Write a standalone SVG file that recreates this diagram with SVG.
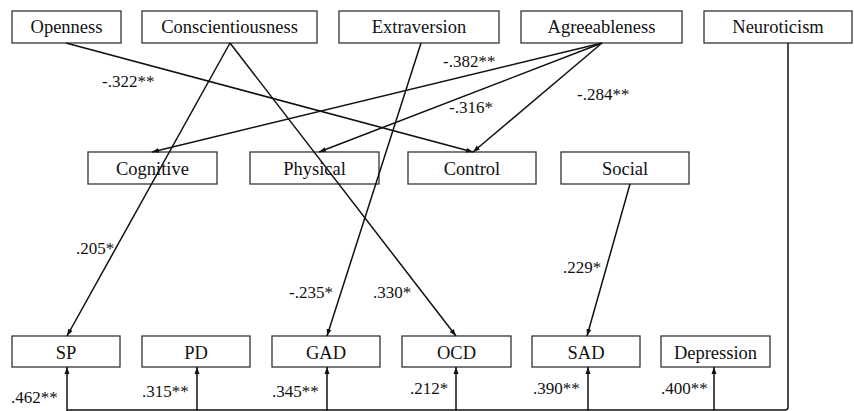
<svg xmlns="http://www.w3.org/2000/svg" width="854" height="411" viewBox="0 0 854 411">
<style>
.box{fill:#fff;stroke:#333;stroke-width:1.3}
.t{font-family:"Liberation Serif","Times New Roman",serif;font-size:18.5px;fill:#111;text-anchor:middle}
.l{font-family:"Liberation Serif","Times New Roman",serif;font-size:17px;fill:#111}
.c{fill:none;stroke:#111;stroke-width:1.5}
</style>
<defs>
<marker id="ah" markerUnits="userSpaceOnUse" markerWidth="8" markerHeight="6" refX="7" refY="3" orient="auto">
<path d="M0,0.5 L7,3 L0,5.5 z" fill="#111"/>
</marker>
</defs>
<rect width="854" height="411" fill="#fff"/>
<g id="openness"><rect class="box" x="12" y="11" width="109" height="32"/><text class="t" x="66.5" y="33">Openness</text></g>
<g id="conscientiousness"><rect class="box" x="142" y="11" width="175" height="32"/><text class="t" x="229.5" y="33">Conscientiousness</text></g>
<g id="extraversion"><rect class="box" x="339" y="11" width="160" height="32"/><text class="t" x="419" y="33">Extraversion</text></g>
<g id="agreeableness"><rect class="box" x="521" y="11" width="161" height="32"/><text class="t" x="601.5" y="33">Agreeableness</text></g>
<g id="neuroticism"><rect class="box" x="704" y="11" width="148" height="32"/><text class="t" x="778" y="33">Neuroticism</text></g>
<g id="cognitive"><rect class="box" x="88" y="152" width="129" height="32"/><text class="t" x="152.5" y="175">Cognitive</text></g>
<g id="physical"><rect class="box" x="250" y="152" width="129" height="32"/><text class="t" x="314.5" y="175">Physical</text></g>
<g id="control"><rect class="box" x="408" y="152" width="128" height="32"/><text class="t" x="472" y="175">Control</text></g>
<g id="social"><rect class="box" x="561" y="152" width="128" height="32"/><text class="t" x="625" y="175">Social</text></g>
<g id="sp"><rect class="box" x="12" y="336" width="108" height="31"/><text class="t" x="66" y="359">SP</text></g>
<g id="pd"><rect class="box" x="142" y="336" width="108" height="31"/><text class="t" x="196" y="359">PD</text></g>
<g id="gad"><rect class="box" x="272" y="336" width="108" height="31"/><text class="t" x="326" y="359">GAD</text></g>
<g id="ocd"><rect class="box" x="402" y="336" width="109" height="31"/><text class="t" x="456.5" y="359">OCD</text></g>
<g id="sad"><rect class="box" x="532" y="336" width="108" height="31"/><text class="t" x="586" y="359">SAD</text></g>
<g id="depression"><rect class="box" x="661" y="336" width="109" height="31"/><text class="t" x="715.5" y="359">Depression</text></g>
<g id="connectors">
<line class="c" x1="66" y1="43" x2="473" y2="152" marker-end="url(#ah)"/>
<line class="c" x1="230" y1="43" x2="67" y2="336" marker-end="url(#ah)"/>
<line class="c" x1="230" y1="43" x2="456" y2="336" marker-end="url(#ah)"/>
<line class="c" x1="421" y1="43" x2="327" y2="336" marker-end="url(#ah)"/>
<line class="c" x1="602" y1="43" x2="152" y2="152" marker-end="url(#ah)"/>
<line class="c" x1="602" y1="43" x2="319" y2="152" marker-end="url(#ah)"/>
<line class="c" x1="602" y1="43" x2="473" y2="152" marker-end="url(#ah)"/>
<line class="c" x1="630" y1="184" x2="587" y2="336" marker-end="url(#ah)"/>
<path class="c" d="M788,43 L788,407 Q788,410 785,410 L67,410" stroke-width="1.2"/>
<line class="c" x1="67" y1="411" x2="67" y2="367" marker-end="url(#ah)"/>
<line class="c" x1="197" y1="411" x2="197" y2="367" marker-end="url(#ah)"/>
<line class="c" x1="327" y1="411" x2="327" y2="367" marker-end="url(#ah)"/>
<line class="c" x1="456" y1="411" x2="456" y2="367" marker-end="url(#ah)"/>
<line class="c" x1="588" y1="411" x2="588" y2="367" marker-end="url(#ah)"/>
<line class="c" x1="714" y1="411" x2="714" y2="367" marker-end="url(#ah)"/>
<text class="l" x="102" y="87">-.322**</text>
<text class="l" x="443" y="67">-.382**</text>
<text class="l" x="449" y="113">-.316*</text>
<text class="l" x="577" y="100">-.284**</text>
<text class="l" x="76" y="254">.205*</text>
<text class="l" x="563" y="273">.229*</text>
<text class="l" x="289" y="298">-.235*</text>
<text class="l" x="373" y="298">.330*</text>
<text class="l" x="11" y="403">.462**</text>
<text class="l" x="142" y="397">.315**</text>
<text class="l" x="272" y="397">.345**</text>
<text class="l" x="410" y="394">.212*</text>
<text class="l" x="533" y="394">.390**</text>
<text class="l" x="661" y="394">.400**</text>
</g>
</svg>
